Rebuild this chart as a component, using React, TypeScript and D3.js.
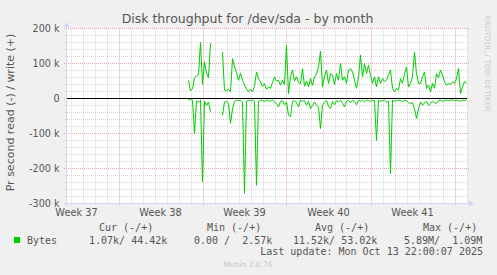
import React from 'react';
import * as d3 from 'd3';

// ---------- data (values in k bytes/s, one point every 4 hours) ----------
const DATA_START = Date.UTC(2025, 8, 20, 19);
const STEP_HOURS = 4;

const writeK: (number | null)[] = [
  52, 22, 28, 58, 65, 68, 160, 40, 105, 72, 60, 158,
  null, null, null, null, null,
  133, 24, 22, 26, 20, 114, 90, 75, 52, 72, 52, 40, 27, 20, 26, 19, 35, 76, 57, 48,
  35, 43, 26, 33, 29, 45, 62, 50, 52, 38, 52, 40, 152, 14,
  62, 81, 50, 62, 45, 43, 85, 35, 50, 33,
  57, 38, 62, 70, 90, 135, 33, 62, 81, 43,
  71, 67, 40, 71, 52, 100, 52, 62, 43, 81,
  86, 76, 52, 29, 62, 124, 62, 100, 71, 95,
  67, 43, 62, 33, 62, 43, 57, 48, 52, 67,
  81, 29, 19, 29, 24, 57, 43, 71, 90, 33,
  43, 62, 133, 71, 43, 43, 62, 76, 29, 38,
  19, 43, 29, 71, 60, 81, 67, 48, 38, 43,
  40, 48, 43, 57, 86, 14, 33, 48, 45,
];

const readK: (number | null)[] = [
  3, 2, 5, 100, 8, 10, 5, 238, 8, 20, 10, 38,
  null, null, null, null, null,
  48, 10, 8, 14, 71, 30, 8, 5, 6, 5, 10, 271, 8, 5, 6, 5, 8, 248, 8, 5,
  6, 8, 5, 6, 8, 5, 10, 14, 24, 8, 6, 18, 10, 48,
  52, 8, 6, 12, 24, 5, 8, 6, 19, 8,
  29, 20, 10, 19, 24, 86, 20, 10, 5, 22,
  29, 8, 18, 6, 10, 5, 14, 24, 8, 5,
  12, 5, 8, 18, 5, 8, 5, 10, 5, 6,
  8, 5, 6, 120, 5, 8, 6, 5, 10, 8,
  214, 5, 8, 6, 5, 6, 8, 5, 6, 12,
  14, 12, 29, 57, 30, 10, 19, 12, 8, 19,
  14, 8, 12, 14, 6, 5, 8, 6, 5, 6,
  5, 4, 6, 5, 6, 8, 5, 6, 4,
];

const yTickValues = [200000, 100000, 0, -100000, -200000, -300000];
const yTickLabels = ['200 k', '100 k', '0', '-100 k', '-200 k', '-300 k'];
const legendHeaders = ['Cur (-/+)', 'Min (-/+)', 'Avg (-/+)', 'Max (-/+)'];
const legendValues = ['1.07k/ 44.42k', '0.00 /  2.57k', '11.52k/ 53.02k', '5.89M/  1.09M'];
const seriesName = 'Bytes';
const titleText = 'Disk throughput for /dev/sda - by month';
const yAxisTitle = 'Pr second read (-) / write (+)';
const lastUpdate = 'Last update: Mon Oct 13 22:00:07 2025';
const watermark = 'Munin 2.0.76';
const sideText = 'RRDTOOL / TOBI OETIKER';

const W = 497;
const H = 275;
const LEFT = 67;
const RIGHT = 467;
const TOP = 28.5;
const BOTTOM = 203.5;

const SANS = 'DejaVu Sans, sans-serif';
const MONO = 'DejaVu Sans Mono, monospace';
const FONT_COLOR = '#555555';
const AXIS_COLOR = '#CFD6F8';
const LINE_COLOR = '#00CC00';

export default function App() {
  const tEnd = new Date(Date.UTC(2025, 9, 14, 1));
  const tStart = new Date(tEnd.getTime() - 800 * 3600 * 1000);
  const x = d3.scaleUtc().domain([tStart, tEnd]).range([LEFT, RIGHT]);
  const y = d3.scaleLinear().domain([-300000, 200000]).range([BOTTOM, TOP]);

  const time = (i: number) => new Date(DATA_START + i * STEP_HOURS * 3600 * 1000);
  const writePts = writeK.map((v, i) => ({ t: time(i), v: v == null ? null : v * 1000 }));
  const readPts = readK.map((v, i) => ({ t: time(i), v: v == null ? null : -v * 1000 }));

  const line = d3
    .line<{ t: Date; v: number | null }>()
    .defined((d) => d.v != null)
    .x((d) => Math.round(x(d.t)) + 0.5)
    .y((d) => y(d.v as number));

  const mondays = d3.utcMonday.range(tStart, tEnd);
  const days = d3.utcDay.range(tStart, tEnd).filter((d) => d.getUTCDay() !== 1);
  const minorY = d3.range(-300000, 200001, 20000).filter((v) => v % 100000 !== 0);
  const weekFmt = d3.utcFormat('Week %V');
  const weekLabels = d3.utcMonday
    .range(d3.utcMonday.offset(tStart, -1), tEnd)
    .map((m) => ({ m, pos: x(new Date(m.getTime() + 3.5 * 86400000)) }))
    .filter((d) => d.pos > LEFT && d.pos < RIGHT);

  const px = (v: number) => Math.round(v) + 0.5;

  return (
    <svg width={W} height={H} style={{ position: 'absolute', left: 0, top: 0, background: '#F0F0F0' }}>
      <rect x={0} y={0} width={W} height={H} fill="#F0F0F0" />
      <rect x={LEFT} y={TOP - 0.5} width={RIGHT - LEFT} height={BOTTOM - TOP + 0.5} fill="#FFFFFF" />

      {/* minor grid */}
      {days.map((d, i) => (
        <line key={'dv' + i} x1={px(x(d))} x2={px(x(d))} y1={TOP} y2={BOTTOM + 2}
          stroke="#D4D4D4" strokeDasharray="1,1" />
      ))}
      {minorY.map((v, i) => (
        <line key={'mh' + i} x1={LEFT - 2} x2={RIGHT + 2} y1={y(v)} y2={y(v)}
          stroke="#D4D4D4" strokeDasharray="1,1" />
      ))}
      {/* major grid */}
      {mondays.map((d, i) => (
        <line key={'wv' + i} x1={px(x(d))} x2={px(x(d))} y1={TOP} y2={BOTTOM + 3}
          stroke="#F0A0A0" strokeDasharray="1,1" />
      ))}
      {yTickValues.map((v, i) => (
        <line key={'Mh' + i} x1={LEFT - 3} x2={RIGHT + 2} y1={y(v)} y2={y(v)}
          stroke="#F0A0A0" strokeDasharray="1,1" />
      ))}

      {/* axes */}
      <line x1={LEFT - 3} x2={RIGHT + 2} y1={BOTTOM} y2={BOTTOM} stroke={AXIS_COLOR} />
      <path d={`M${RIGHT + 2},${BOTTOM - 3} L${RIGHT + 7},${BOTTOM} L${RIGHT + 2},${BOTTOM + 3} Z`} fill={AXIS_COLOR} />
      <line x1={LEFT - 0.5} x2={LEFT - 0.5} y1={BOTTOM + 3} y2={TOP - 2} stroke={AXIS_COLOR} />
      <path d={`M${LEFT - 3.5},${TOP - 1.5} L${LEFT - 0.5},${TOP - 6.5} L${LEFT + 2.5},${TOP - 1.5} Z`} fill={AXIS_COLOR} />

      {/* data */}
      <g fill="none" stroke={LINE_COLOR} strokeWidth={1} strokeLinejoin="round">
        <path d={line(writePts) || ''} />
        <path d={line(readPts) || ''} />
      </g>
      <line x1={LEFT} x2={RIGHT} y1={y(0)} y2={y(0)} stroke="#000000" />

      {/* tick labels */}
      {yTickValues.map((v, i) => (
        <text key={'yl' + i} x={59.5} y={y(v) + 3.5} textAnchor="end" fontFamily={SANS}
          fontSize={9.6} fill={FONT_COLOR}>{yTickLabels[i]}</text>
      ))}
      {weekLabels.map((d, i) => (
        <text key={'wl' + i} x={d.pos} y={215.5} textAnchor="middle" fontFamily={SANS}
          fontSize={9.8} fill={FONT_COLOR}>{weekFmt(d.m)}</text>
      ))}

      {/* titles */}
      <text x={247.5} y={23} textAnchor="middle" fontFamily={SANS} fontSize={12.5} fill={FONT_COLOR}>{titleText}</text>
      <text transform={`translate(14,112.5) rotate(-90)`} textAnchor="middle" fontFamily={SANS}
        fontSize={11} fill={FONT_COLOR}>{yAxisTitle}</text>
      <text transform={`translate(485,15) rotate(90)`} fontFamily={SANS} fontSize={7.5} fill="#CCCCCC">{sideText}</text>

      {/* legend */}
      {legendHeaders.map((h, i) => (
        <text key={'lh' + i} x={99 + i * 108} y={231} fontFamily={MONO} fontSize={10} fill={FONT_COLOR}
          style={{ whiteSpace: 'pre' }}>{h}</text>
      ))}
      <rect x={14} y={237} width={6} height={6} fill={LINE_COLOR} />
      <text x={27} y={243.5} fontFamily={MONO} fontSize={10} fill={FONT_COLOR}>{seriesName}</text>
      {legendValues.map((v, i) => (
        <text key={'lv' + i} x={[89, 194, 293, 404][i]} y={243.5} fontFamily={MONO} fontSize={10}
          fill={FONT_COLOR} style={{ whiteSpace: 'pre' }}>{v}</text>
      ))}
      <text x={483} y={255.3} textAnchor="end" fontFamily={MONO} fontSize={10} fill={FONT_COLOR}
        style={{ whiteSpace: 'pre' }}>{lastUpdate}</text>
      <text x={248} y={267} textAnchor="middle" fontFamily={SANS} fontSize={7.5} fill="#C4C4C4">{watermark}</text>
    </svg>
  );
}
